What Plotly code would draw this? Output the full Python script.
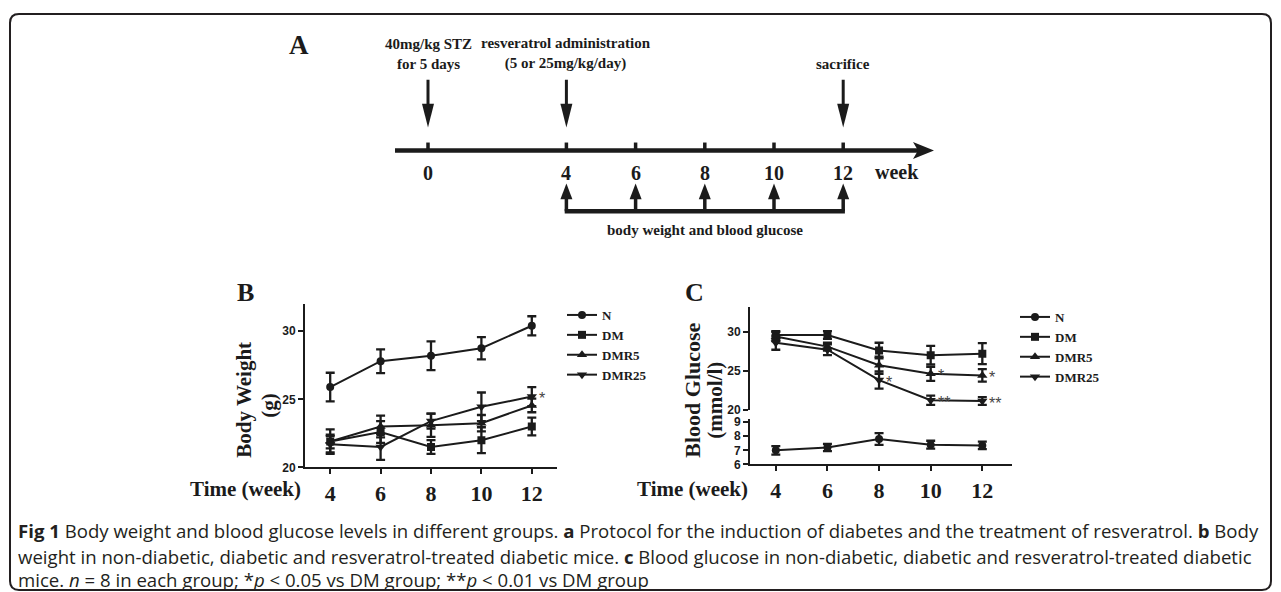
import plotly.graph_objects as go

W, H = 1281, 592          # reference picture size
FH = 600                  # figure height: the photo is squeezed vertically by about 592/600
INK = "#1b1b1b"
SERIF = "Liberation Serif, Times New Roman, serif"
SANS = "Liberation Sans, Arial, sans-serif"
CAPF = "Open Sans, Noto Sans, sans-serif"

# ---------------- data ----------------
weeks = [4, 6, 8, 10, 12]
week_labels = ["4", "6", "8", "10", "12"]
groups = ["N", "DM", "DMR5", "DMR25"]
group_symbols = ["circle", "square", "triangle-up", "triangle-down"]
group_sizes = [8, 8, 9, 9]

# Body weight (g)
bw_N = [25.9, 27.8, 28.2, 28.75, 30.4]
bw_N_err = [1.05, 0.87, 1.05, 0.82, 0.7]
bw_DM = [21.9, 22.6, 21.5, 22.0, 23.0]
bw_DM_err = [0.9, 0.8, 0.5, 0.95, 0.65]
bw_DMR5 = [21.9, 23.0, 23.1, 23.25, 24.55]
bw_DMR5_err = [0.5, 0.8, 0.85, 0.6, 0.5]
bw_DMR25 = [21.7, 21.5, 23.4, 24.45, 25.2]
bw_DMR25_err = [0.6, 0.95, 0.55, 1.05, 0.7]

# Blood glucose (mmol/l)
bg_N = [7.0, 7.2, 7.8, 7.4, 7.35]
bg_N_err = [0.3, 0.25, 0.42, 0.28, 0.27]
bg_DM = [29.6, 29.6, 27.6, 27.0, 27.2]
bg_DM_err = [0.5, 0.5, 1.0, 1.2, 1.35]
bg_DMR5 = [29.4, 28.1, 25.7, 24.6, 24.4]
bg_DMR5_err = [0.6, 0.5, 1.1, 0.9, 0.8]
bg_DMR25 = [28.6, 27.7, 23.8, 21.2, 21.1]
bg_DMR25_err = [0.9, 0.7, 1.1, 0.6, 0.5]

bw_sig = [("DMR25", 12, "*")]
bg_sig = [("DMR25", 8, "*"), ("DMR5", 10, "*"), ("DMR25", 10, "**"),
          ("DMR5", 12, "*"), ("DMR25", 12, "**")]

# Protocol timeline
timeline_weeks = [0, 4, 6, 8, 10, 12]
measure_weeks = [4, 6, 8, 10, 12]
event_weeks = [0, 4, 12]
event_labels = ["40mg/kg STZ<br>for 5 days",
                "resveratrol administration<br>(5 or 25mg/kg/day)",
                "sacrifice"]
measure_label = "body weight and blood glucose"

caption_lines = [
    "<b>Fig 1</b> Body weight and blood glucose levels in different groups. <b>a</b> Protocol for the induction of diabetes and the treatment of resveratrol. <b>b</b> Body",
    "weight in non-diabetic, diabetic and resveratrol-treated diabetic mice. <b>c</b> Blood glucose in non-diabetic, diabetic and resveratrol-treated diabetic",
    "mice. <i>n</i> = 8 in each group; *<i>p</i> &lt; 0.05 vs DM group; **<i>p</i> &lt; 0.01 vs DM group",
]

bw_mean = {"N": bw_N, "DM": bw_DM, "DMR5": bw_DMR5, "DMR25": bw_DMR25}
bw_err = {"N": bw_N_err, "DM": bw_DM_err, "DMR5": bw_DMR5_err, "DMR25": bw_DMR25_err}
bg_mean = {"N": bg_N, "DM": bg_DM, "DMR5": bg_DMR5, "DMR25": bg_DMR25}
bg_err = {"N": bg_N_err, "DM": bg_DM_err, "DMR5": bg_DMR5_err, "DMR25": bg_DMR25_err}


def px_x(p):
    return p / W


def px_y(p):          # reference pixel row -> paper fraction
    return 1 - p / H


fig = go.Figure()


def series(x, y, err, g, sym, sz, xa, ya, legend):
    return go.Scatter(
        x=x, y=y, name=g, mode="lines+markers",
        line=dict(color=INK, width=2),
        marker=dict(symbol=sym, size=sz, color=INK, line=dict(width=0)),
        error_y=dict(type="data", array=err, visible=True, color=INK,
                     thickness=2.3, width=4.5),
        xaxis=xa, yaxis=ya, legend=legend, hoverinfo="skip")


# Panel B
for g, sym, sz in zip(groups, group_symbols, group_sizes):
    fig.add_trace(series(weeks, bw_mean[g], bw_err[g], g, sym, sz, "x", "y", "legend"))
# Panel C (broken axis: N on lower segment)
for g, sym, sz in zip(groups, group_symbols, group_sizes):
    if g == "N":
        fig.add_trace(series(weeks, bg_mean[g], bg_err[g], g, sym, sz, "x3", "y3", "legend2"))
    else:
        fig.add_trace(series(weeks, bg_mean[g], bg_err[g], g, sym, sz, "x2", "y2", "legend2"))

ann = []
sig_font = dict(family=SANS, size=16, color="#444444")
for g, w, t in bw_sig:
    ann.append(dict(x=w, y=bw_mean[g][weeks.index(w)], xref="x", yref="y", text=t,
                    showarrow=False, xanchor="left", yanchor="middle", xshift=5, yshift=-2,
                    font=sig_font))
for g, w, t in bg_sig:
    ann.append(dict(x=w, y=bg_mean[g][weeks.index(w)], xref="x2", yref="y2", text=t,
                    showarrow=False, xanchor="left", yanchor="middle", xshift=5, yshift=-2,
                    font=sig_font))

# ---------------- axes ----------------
axline = dict(showgrid=False, zeroline=False, showline=True, linecolor=INK, linewidth=2,
              ticks="outside", ticklen=5, tickwidth=2, tickcolor=INK)
xt = dict(tickvals=weeks, ticktext=week_labels,
          tickfont=dict(family=SERIF, size=22, color=INK, weight="bold"))
yt_font = dict(family=SANS, size=12, color=INK, weight="bold")

B_X = [px_x(305), px_x(557)]
C_X = [px_x(750), px_x(1012)]

layout_axes = dict(
    xaxis=dict(domain=B_X, range=[3, 13], anchor="y", **axline, **xt),
    yaxis=dict(domain=[px_y(466), px_y(302)], range=[20, 32], anchor="x",
               tickvals=[20, 25, 30], tickfont=yt_font, **axline),
    xaxis2=dict(domain=C_X, range=[3, 13.15], anchor="y2", visible=False),
    yaxis2=dict(domain=[px_y(408), px_y(305)], range=[20, 33.2], anchor="x2",
                tickvals=[20, 25, 30], tickfont=yt_font, **axline),
    xaxis3=dict(domain=C_X, range=[3, 13.15], anchor="y3", **axline, **xt),
    yaxis3=dict(domain=[px_y(463), px_y(417)], range=[6, 9.25], anchor="x3",
                tickvals=[6, 7, 8, 9], tickfont=yt_font, **axline),
)

# ---------------- panel A (timeline) ----------------
A_X0, A_PPW = 428, 34.6  # pixel of week 0, pixels per week


def adx(p):
    return p / A_PPW


layout_axes["xaxis4"] = dict(domain=[0, 1], range=[-A_X0 / A_PPW, (W - A_X0) / A_PPW],
                             anchor="y4", visible=False)
layout_axes["yaxis4"] = dict(domain=[0, 1], range=[H, 0], anchor="x4", visible=False)

Y_LINE, Y_TICK_TOP, Y_LABEL = 148, 140, 171
Y_DOWN_TOP, Y_DOWN_HEAD, Y_DOWN_TIP = 77, 101, 125
Y_UP_TIP, Y_UP_HEAD, Y_BRACKET = 181, 197, 209
Y_NOTE, Y_EVENT_BOTTOM = 228, 71

shapes = []
A = dict(xref="x4", yref="y4")


def tri(pts):
    return "M " + " L ".join(f"{x},{y}" for x, y in pts) + " Z"


t_start = (395 - A_X0) / A_PPW
t_tip = (934 - A_X0) / A_PPW
shapes.append(dict(type="line", x0=t_start, x1=t_tip - adx(12), y0=Y_LINE, y1=Y_LINE,
                   line=dict(color=INK, width=4.5), **A))
shapes.append(dict(type="path", path=tri([(t_tip, Y_LINE), (t_tip - adx(21), Y_LINE - 8.5),
                                          (t_tip - adx(16), Y_LINE), (t_tip - adx(21), Y_LINE + 8.5)]),
                   fillcolor=INK, line=dict(width=0), **A))
for w in timeline_weeks:
    shapes.append(dict(type="line", x0=w, x1=w, y0=Y_TICK_TOP, y1=Y_LINE,
                       line=dict(color=INK, width=3.5), **A))
    ann.append(dict(x=w, y=Y_LABEL, xref="x4", yref="y4", text=str(w), showarrow=False,
                    xanchor="center", yanchor="middle",
                    font=dict(family=SERIF, size=20, color=INK, weight="bold")))
ann.append(dict(x=(897 - A_X0) / A_PPW, y=Y_LABEL - 1, xref="x4", yref="y4", text="week",
                showarrow=False, xanchor="center", yanchor="middle",
                font=dict(family=SERIF, size=20, color=INK, weight="bold")))

for w, lab in zip(event_weeks, event_labels):
    shapes.append(dict(type="line", x0=w, x1=w, y0=Y_DOWN_TOP, y1=Y_DOWN_HEAD + 2,
                       line=dict(color=INK, width=3), **A))
    shapes.append(dict(type="path", path=tri([(w - adx(6), Y_DOWN_HEAD), (w + adx(6), Y_DOWN_HEAD),
                                              (w, Y_DOWN_TIP)]),
                       fillcolor=INK, line=dict(width=0), **A))
    ann.append(dict(x=w, y=Y_EVENT_BOTTOM, xref="x4", yref="y4", text=lab, showarrow=False,
                    xanchor="center", yanchor="bottom", align="center",
                    font=dict(family=SERIF, size=15, color=INK, weight="bold")))

for w in measure_weeks:
    shapes.append(dict(type="line", x0=w, x1=w, y0=Y_UP_HEAD - 2, y1=Y_BRACKET,
                       line=dict(color=INK, width=3.5), **A))
    shapes.append(dict(type="path", path=tri([(w - adx(6), Y_UP_HEAD), (w + adx(6), Y_UP_HEAD),
                                              (w, Y_UP_TIP)]),
                       fillcolor=INK, line=dict(width=0), **A))
shapes.append(dict(type="line", x0=measure_weeks[0] - adx(1.7), x1=measure_weeks[-1] + adx(1.7),
                   y0=Y_BRACKET, y1=Y_BRACKET, line=dict(color=INK, width=4.5), **A))
ann.append(dict(x=(measure_weeks[0] + measure_weeks[-1]) / 2, y=Y_NOTE, xref="x4", yref="y4",
                text=measure_label, showarrow=False, xanchor="center", yanchor="middle",
                font=dict(family=SERIF, size=15, color=INK, weight="bold")))

# ---------------- panel letters, titles ----------------
for letter, x, y, s in [("A", 299, 42, 27), ("B", 245, 290, 26), ("C", 694, 290, 26)]:
    ann.append(dict(x=px_x(x), y=px_y(y), xref="paper", yref="paper", text=letter,
                    xanchor="center", yanchor="middle", showarrow=False,
                    font=dict(family=SERIF, size=s, color=INK, weight="bold")))

for txt, x, y, s in [("Body Weight", 244, 398, 21), ("(g)", 269, 404, 21),
                     ("Blood Glucose", 693, 389, 22), ("(mmol/l)", 715, 398, 21)]:
    ann.append(dict(x=px_x(x), y=px_y(y), xref="paper", yref="paper", text=txt, textangle=-90,
                    xanchor="center", yanchor="middle", showarrow=False,
                    font=dict(family=SERIF, size=s, color=INK, weight="bold")))

for xr in [303, 750]:
    ann.append(dict(x=px_x(xr), y=px_y(488), xref="paper", yref="paper", text="Time (week)",
                    xanchor="right", yanchor="middle", showarrow=False,
                    font=dict(family=SERIF, size=21, color=INK, weight="bold")))

# caption
for line, y in zip(caption_lines, [529, 555, 578]):
    ann.append(dict(x=px_x(16), y=px_y(y), xref="paper", yref="paper", text=line,
                    xanchor="left", yanchor="middle", showarrow=False,
                    font=dict(family=CAPF, size=18.6, color="#231f20")))

# frame (rounded rectangle)
fx0, fx1, fy_top, fy_bot, r = 10, 1271, 11, 589, 9
X0, X1, YT, YB = px_x(fx0), px_x(fx1), px_y(fy_top), px_y(fy_bot)
rx, ry = r / W, r / H
frame = (f"M {X0+rx},{YT} L {X1-rx},{YT} Q {X1},{YT} {X1},{YT-ry} L {X1},{YB+ry} "
         f"Q {X1},{YB} {X1-rx},{YB} L {X0+rx},{YB} Q {X0},{YB} {X0},{YB+ry} "
         f"L {X0},{YT-ry} Q {X0},{YT} {X0+rx},{YT} Z")
shapes.append(dict(type="path", xref="paper", yref="paper", path=frame,
                   line=dict(color="#231f20", width=2)))

legend_font = dict(family=SERIF, size=13, color=INK, weight="bold")
fig.update_layout(
    width=W, height=FH, margin=dict(l=0, r=0, t=0, b=0),
    paper_bgcolor="white", plot_bgcolor="rgba(0,0,0,0)",
    showlegend=True,
    legend=dict(x=px_x(562), y=px_y(298), xanchor="left", yanchor="top", font=legend_font,
                bgcolor="rgba(0,0,0,0)", tracegroupgap=0, itemclick=False),
    legend2=dict(x=px_x(1015), y=px_y(300), xanchor="left", yanchor="top", font=legend_font,
                 bgcolor="rgba(0,0,0,0)", tracegroupgap=0, itemclick=False),
    annotations=ann, shapes=shapes,
    **layout_axes,
)

# remove the default page margin so the figure starts at the window's corner
fig.write_html("out.html", config={"displayModeBar": False},
               post_script="document.body.style.margin='0px';")
